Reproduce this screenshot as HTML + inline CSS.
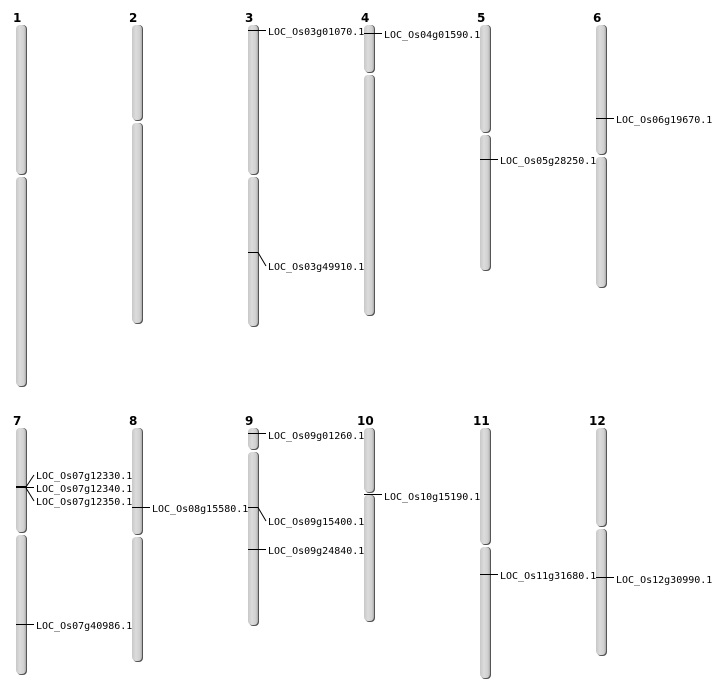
<!DOCTYPE html><html><head><style>body{margin:0;background:#fff}svg{display:block}text{font-family:"DejaVu Sans Mono","Liberation Mono",monospace;font-size:10px;fill:#000}.n{font-family:"DejaVu Sans","Liberation Sans",sans-serif;font-weight:bold;font-size:12px}</style></head><body>
<svg width="712" height="700" xmlns="http://www.w3.org/2000/svg">
<defs><linearGradient id="g" x1="0" x2="1"><stop offset="0" stop-color="#c8c8c8"/><stop offset="0.4" stop-color="#dcdcdc"/><stop offset="0.8" stop-color="#cfcfcf"/><stop offset="1" stop-color="#aaa"/></linearGradient></defs>
<g id="chr">
<!-- helper: each segment -->
</g>
<g stroke="none">
<g fill="#555">
<rect x="17" y="25" width="10" height="150" rx="4"/><rect x="17" y="177" width="10" height="210" rx="4"/>
<rect x="133" y="25" width="10" height="96" rx="4"/><rect x="133" y="123" width="10" height="201" rx="4"/>
<rect x="249" y="25" width="10" height="150" rx="4"/><rect x="249" y="177" width="10" height="150" rx="4"/>
<rect x="365" y="25" width="10" height="48" rx="4"/><rect x="365" y="75" width="10" height="241" rx="4"/>
<rect x="481" y="25" width="10" height="108" rx="4"/><rect x="481" y="135" width="10" height="136" rx="4"/>
<rect x="597" y="25" width="10" height="130" rx="4"/><rect x="597" y="157" width="10" height="131" rx="4"/>
<rect x="17" y="428" width="10" height="105" rx="4"/><rect x="17" y="535" width="10" height="140" rx="4"/>
<rect x="133" y="428" width="10" height="107" rx="4"/><rect x="133" y="537" width="10" height="125" rx="4"/>
<rect x="249" y="428" width="10" height="22" rx="4"/><rect x="249" y="452" width="10" height="174" rx="4"/>
<rect x="365" y="428" width="10" height="65" rx="4"/><rect x="365" y="495" width="10" height="127" rx="4"/>
<rect x="481" y="428" width="10" height="117" rx="4"/><rect x="481" y="547" width="10" height="132" rx="4"/>
<rect x="597" y="428" width="10" height="99" rx="4"/><rect x="597" y="529" width="10" height="127" rx="4"/>
</g>
<g fill="url(#g)">
<rect x="16" y="25" width="10" height="149" rx="4"/><rect x="16" y="177" width="10" height="209" rx="4"/>
<rect x="132" y="25" width="10" height="95" rx="4"/><rect x="132" y="123" width="10" height="200" rx="4"/>
<rect x="248" y="25" width="10" height="149" rx="4"/><rect x="248" y="177" width="10" height="149" rx="4"/>
<rect x="364" y="25" width="10" height="47" rx="4"/><rect x="364" y="75" width="10" height="240" rx="4"/>
<rect x="480" y="25" width="10" height="107" rx="4"/><rect x="480" y="135" width="10" height="135" rx="4"/>
<rect x="596" y="25" width="10" height="129" rx="4"/><rect x="596" y="157" width="10" height="130" rx="4"/>
<rect x="16" y="428" width="10" height="104" rx="4"/><rect x="16" y="535" width="10" height="139" rx="4"/>
<rect x="132" y="428" width="10" height="106" rx="4"/><rect x="132" y="537" width="10" height="124" rx="4"/>
<rect x="248" y="428" width="10" height="21" rx="4"/><rect x="248" y="452" width="10" height="173" rx="4"/>
<rect x="364" y="428" width="10" height="64" rx="4"/><rect x="364" y="495" width="10" height="126" rx="4"/>
<rect x="480" y="428" width="10" height="116" rx="4"/><rect x="480" y="547" width="10" height="131" rx="4"/>
<rect x="596" y="428" width="10" height="98" rx="4"/><rect x="596" y="529" width="10" height="126" rx="4"/>
</g></g>
<g class="n"><text class="n" x="13" y="22">1</text><text class="n" x="129" y="22">2</text><text class="n" x="245" y="22">3</text><text class="n" x="361" y="22">4</text><text class="n" x="477" y="22">5</text><text class="n" x="593" y="22">6</text>
<text class="n" x="13" y="425">7</text><text class="n" x="129" y="425">8</text><text class="n" x="245" y="425">9</text><text class="n" x="357" y="425">10</text><text class="n" x="473" y="425">11</text><text class="n" x="589" y="425">12</text></g>
<g stroke="#000" stroke-width="1" fill="none">
<path d="M248 30.5H266"/><path d="M248 252.5H258L266 266"/>
<path d="M364 33.5H382"/><path d="M480 159.5H498"/><path d="M596 118.5H614"/>
<path d="M16 487H26" stroke-width="2"/><path d="M26 487L34 475M26 487.5H34M26 488L34 501"/>
<path d="M16 624.5H34"/><path d="M132 507.5H150"/>
<path d="M248 433.5H266"/><path d="M248 507.5H258L266 521"/><path d="M248 549.5H266"/>
<path d="M364 494.5H382"/><path d="M480 574.5H498"/><path d="M596 577.5H614"/>
</g>
<text x="268" y="35">LOC_Os03g01070.1</text><text x="268" y="270">LOC_Os03g49910.1</text>
<text x="384" y="38">LOC_Os04g01590.1</text><text x="500" y="164">LOC_Os05g28250.1</text><text x="616" y="123">LOC_Os06g19670.1</text>
<text x="36" y="479">LOC_Os07g12330.1</text><text x="36" y="492">LOC_Os07g12340.1</text><text x="36" y="505">LOC_Os07g12350.1</text>
<text x="36" y="629">LOC_Os07g40986.1</text><text x="152" y="512">LOC_Os08g15580.1</text>
<text x="268" y="439">LOC_Os09g01260.1</text><text x="268" y="525">LOC_Os09g15400.1</text><text x="268" y="554">LOC_Os09g24840.1</text>
<text x="384" y="500">LOC_Os10g15190.1</text><text x="500" y="579">LOC_Os11g31680.1</text><text x="616" y="583">LOC_Os12g30990.1</text>
</svg></body></html>
